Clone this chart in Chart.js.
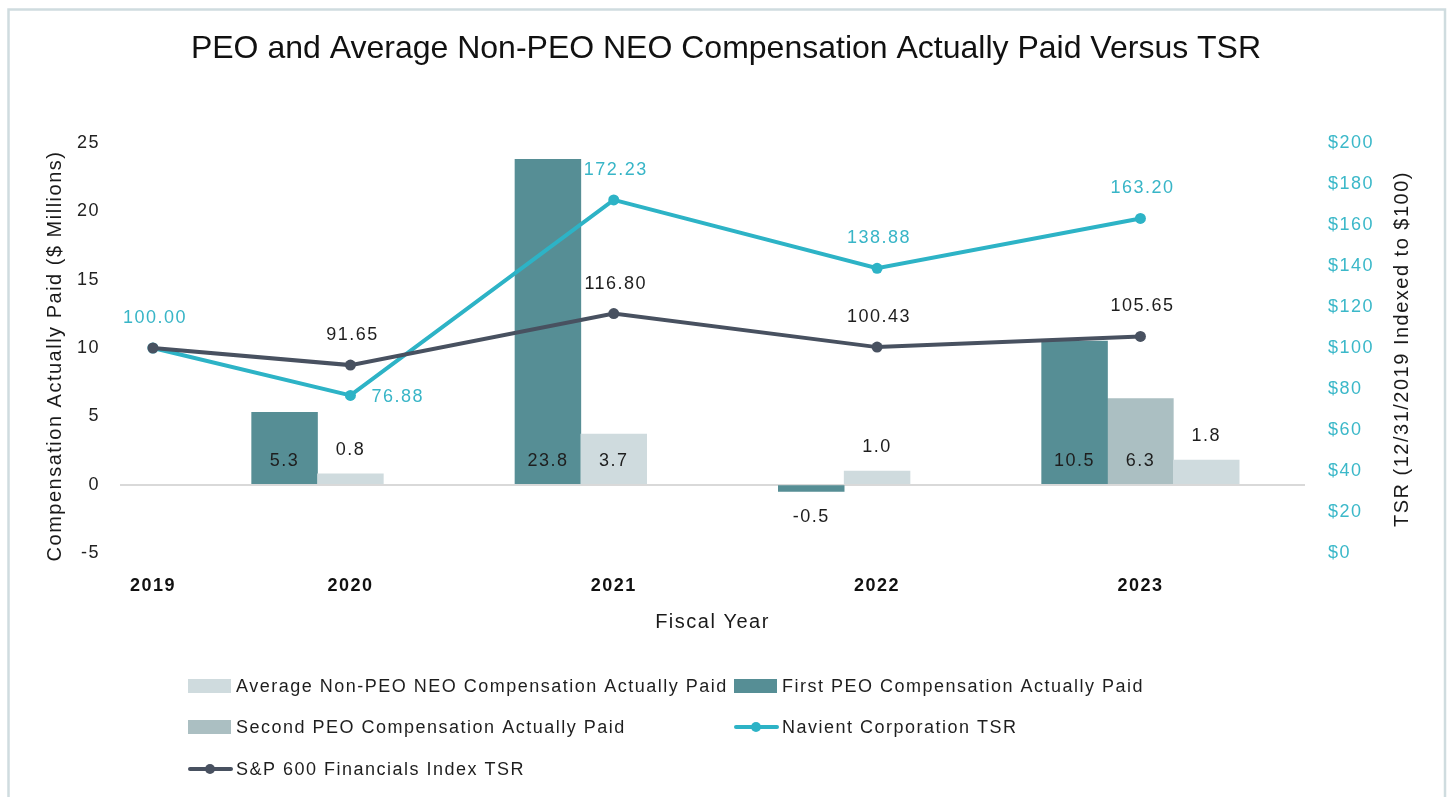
<!DOCTYPE html>
<html>
<head>
<meta charset="utf-8">
<script src="https://cdn.jsdelivr.net/npm/chart.js@4/dist/chart.umd.min.js"></script>
<style>
html,body{margin:0;padding:0;background:#fff;}
#wrap{width:1448px;height:797px;position:relative;}
</style>
</head>
<body>
<div id="wrap"><canvas id="c" width="1448" height="797"></canvas></div>
<script>
// ---------------- DATA ----------------
const years = ['2019', '2020', '2021', '2022', '2023'];
const firstPEO = [null, 5.3, 23.8, -0.5, 10.5];
const secondPEO = [null, null, null, null, 6.3];
const avgNonPEO = [null, 0.8, 3.7, 1.0, 1.8];
const navientTSR = [100.00, 76.88, 172.23, 138.88, 163.20];
const sp600TSR = [100.00, 91.65, 116.80, 100.43, 105.65];
const compTicks = [-5, 0, 5, 10, 15, 20, 25];
const tsrTicks = [0, 20, 40, 60, 80, 100, 120, 140, 160, 180, 200];

const seriesNames = {
  avg: 'Average Non-PEO NEO Compensation Actually Paid',
  first: 'First PEO Compensation Actually Paid',
  second: 'Second PEO Compensation Actually Paid',
  nav: 'Navient Corporation TSR',
  sp: 'S&P 600 Financials Index TSR'
};
const titleText = 'PEO and Average Non-PEO NEO Compensation Actually Paid Versus TSR';
const leftTitle = 'Compensation Actually Paid ($ Millions)';
const rightTitle = 'TSR (12/31/2019 Indexed to $100)';
const xTitle = 'Fiscal Year';

// ---------------- LAYOUT (slots on the category axis) ----------------
const SLOTS = 18;
const yearSlot = [0, 3, 7, 11, 15];
const navLabelPos = ['above', 'right', 'above', 'above', 'above'];
const spLabelPos = ['none', 'above', 'above', 'above', 'above'];

const COLORS = {
  first: '#568e95', second: '#abbfc2', avg: '#cfdbde',
  nav: '#2db3c6', sp: '#485160', navText: '#38b5c7', text: '#1e1e1e'
};
const FONT = "'Liberation Sans', Arial, Helvetica, sans-serif";
const LS = '1.5px';

const labels = Array(SLOTS).fill('');
years.forEach((y, i) => { labels[yearSlot[i]] = y; });

const barSeries = [firstPEO, secondPEO, avgNonPEO];
const barData = barSeries.map(() => Array(SLOTS).fill(null));
years.forEach((y, i) => {
  let s = yearSlot[i] - 1;
  barSeries.forEach((ser, k) => {
    if (ser[i] !== null) { barData[k][s] = ser[i]; s++; }
  });
});
function toSlots(arr) {
  const out = Array(SLOTS).fill(null);
  arr.forEach((v, i) => { out[yearSlot[i]] = v; });
  return out;
}
function posSlots(arr) {
  const out = Array(SLOTS).fill('none');
  arr.forEach((v, i) => { out[yearSlot[i]] = v; });
  return out;
}

function setLS(chart) { try { chart.ctx.letterSpacing = LS; } catch (e) {} }

const decorPlugin = {
  id: 'decor',
  beforeInit: setLS, beforeUpdate: setLS, beforeLayout: setLS, beforeDraw(chart) {
    setLS(chart);
    const ctx = chart.ctx;
    ctx.save();
    ctx.fillStyle = '#fff';
    ctx.fillRect(0, 0, chart.width, chart.height);
    ctx.strokeStyle = '#cfdcdf';
    ctx.lineWidth = 2.5;
    ctx.strokeRect(8.5, 9.5, 1436.5, 820);
    ctx.restore();
  },
  afterDraw(chart) {
    const ctx = chart.ctx;
    const ca = chart.chartArea;
    ctx.save();
    // title
    try { ctx.letterSpacing = '0px'; } catch (e) {}
    ctx.fillStyle = '#111';
    ctx.font = '32px ' + FONT;
    ctx.textAlign = 'center';
    ctx.textBaseline = 'middle';
    ctx.fillText(titleText, 726, 49);
    try { ctx.letterSpacing = LS; } catch (e) {}
    // axis titles
    ctx.font = '20px ' + FONT;
    ctx.fillStyle = '#1a1a1a';
    ctx.save();
    ctx.translate(55, 356);
    ctx.rotate(-Math.PI / 2);
    ctx.fillText(leftTitle, 0, 0);
    ctx.restore();
    ctx.save();
    ctx.translate(1402, 349);
    ctx.rotate(-Math.PI / 2);
    ctx.fillText(rightTitle, 0, 0);
    ctx.restore();
    ctx.fillText(xTitle, (ca.left + ca.right) / 2, 622);
    // legend
    ctx.font = '18px ' + FONT;
    ctx.textAlign = 'left';
    const items = [
      {type: 'box', color: COLORS.avg, text: seriesNames.avg, x: 188, y: 686},
      {type: 'box', color: COLORS.first, text: seriesNames.first, x: 734, y: 686},
      {type: 'box', color: COLORS.second, text: seriesNames.second, x: 188, y: 727},
      {type: 'line', color: COLORS.nav, text: seriesNames.nav, x: 734, y: 727},
      {type: 'line', color: COLORS.sp, text: seriesNames.sp, x: 188, y: 769}
    ];
    items.forEach(it => {
      if (it.type === 'box') {
        ctx.fillStyle = it.color;
        ctx.fillRect(it.x, it.y - 7, 43, 14);
      } else {
        ctx.strokeStyle = it.color;
        ctx.lineWidth = 4;
        ctx.lineCap = 'round';
        ctx.beginPath();
        ctx.moveTo(it.x + 2, it.y);
        ctx.lineTo(it.x + 43, it.y);
        ctx.stroke();
        ctx.fillStyle = it.color;
        ctx.beginPath();
        ctx.arc(it.x + 22, it.y, 5, 0, Math.PI * 2);
        ctx.fill();
      }
      ctx.fillStyle = '#1e1e1e';
      ctx.fillText(it.text, it.x + 48, it.y + 1);
    });
    ctx.restore();
  },
  afterDatasetsDraw(chart) {
    const ctx = chart.ctx;
    ctx.save();
    try { ctx.letterSpacing = LS; } catch (e) {}
    ctx.font = '18px ' + FONT;
    ctx.textBaseline = 'middle';
    const zeroY = chart.scales.y.getPixelForValue(0);
    chart.data.datasets.forEach((ds, di) => {
      const meta = chart.getDatasetMeta(di);
      meta.data.forEach((el, j) => {
        const v = ds.data[j];
        if (v === null || v === undefined) return;
        if (ds.type === 'bar') {
          const txt = v.toFixed(1);
          ctx.fillStyle = COLORS.text;
          ctx.textAlign = 'center';
          let y;
          const h = Math.abs(zeroY - el.y);
          if (v < 0) y = el.y + 26;
          else if (h >= 40) y = zeroY - 24;
          else y = el.y - 24;
          ctx.fillText(txt, el.x, y);
        } else {
          const pos = ds.labelPos[j];
          if (pos === 'none') return;
          ctx.fillStyle = ds.labelColor;
          const txt = v.toFixed(2);
          if (pos === 'right') {
            ctx.textAlign = 'left';
            ctx.fillText(txt, el.x + 21, el.y + 2);
          } else {
            ctx.textAlign = 'center';
            ctx.fillText(txt, el.x + 2, el.y - 30);
          }
        }
      });
    });
    ctx.restore();
  }
};

Chart.defaults.font.family = FONT;
Chart.defaults.font.size = 18;
Chart.defaults.color = COLORS.text;

new Chart(document.getElementById('c'), {
  data: {
    labels: labels,
    datasets: [
      { type: 'line', label: seriesNames.sp, data: toSlots(sp600TSR), yAxisID: 'y1',
        borderColor: COLORS.sp, backgroundColor: COLORS.sp, borderWidth: 4,
        pointRadius: 5.5, pointBackgroundColor: COLORS.sp, pointBorderWidth: 0,
        spanGaps: true, order: 0, labelPos: posSlots(spLabelPos), labelColor: COLORS.text },
      { type: 'line', label: seriesNames.nav, data: toSlots(navientTSR), yAxisID: 'y1',
        borderColor: COLORS.nav, backgroundColor: COLORS.nav, borderWidth: 4,
        pointRadius: 5.5, pointBackgroundColor: COLORS.nav, pointBorderWidth: 0,
        spanGaps: true, order: 1, labelPos: posSlots(navLabelPos), labelColor: COLORS.navText },
      { type: 'bar', label: seriesNames.avg, data: barData[2], yAxisID: 'y',
        backgroundColor: COLORS.avg, grouped: false, barPercentage: 1, categoryPercentage: 1, order: 2 },
      { type: 'bar', label: seriesNames.first, data: barData[0], yAxisID: 'y',
        backgroundColor: COLORS.first, grouped: false, barPercentage: 1, categoryPercentage: 1, order: 3 },
      { type: 'bar', label: seriesNames.second, data: barData[1], yAxisID: 'y',
        backgroundColor: COLORS.second, grouped: false, barPercentage: 1, categoryPercentage: 1, order: 4 }
    ]
  },
  options: {
    responsive: false,
    animation: false,
    devicePixelRatio: 1,
    layout: { padding: { top: 143, bottom: 184, left: 0, right: 0 } },
    plugins: { legend: { display: false }, title: { display: false }, tooltip: { enabled: false } },
    scales: {
      x: {
        type: 'category', offset: true,
        grid: { display: false, drawTicks: false },
        border: { display: false },
        ticks: { autoSkip: false, maxRotation: 0, minRotation: 0, padding: 22,
                 font: { size: 18, weight: 'bold' }, color: '#111' },
        afterFit: (s) => { s.height = 60; }
      },
      y: {
        position: 'left', min: compTicks[0], max: compTicks[compTicks.length - 1],
        afterBuildTicks: (axis) => { axis.ticks = compTicks.map(v => ({ value: v })); },
        grid: { drawTicks: false, lineWidth: 2,
                color: (c) => (c.tick && c.tick.value === 0) ? '#d9d9d9' : 'rgba(0,0,0,0)' },
        border: { display: false },
        ticks: { padding: 20, color: '#222', font: { size: 18 } },
        afterFit: (s) => { s.width = 120; }
      },
      y1: {
        position: 'right', min: tsrTicks[0], max: tsrTicks[tsrTicks.length - 1],
        afterBuildTicks: (axis) => { axis.ticks = tsrTicks.map(v => ({ value: v })); },
        grid: { display: false, drawTicks: false },
        border: { display: false },
        ticks: { padding: 23, color: '#3bb8c9', font: { size: 18 }, callback: (v) => '$' + v },
        afterFit: (s) => { s.width = 143; }
      }
    }
  },
  plugins: [decorPlugin]
});
</script>
</body>
</html>
